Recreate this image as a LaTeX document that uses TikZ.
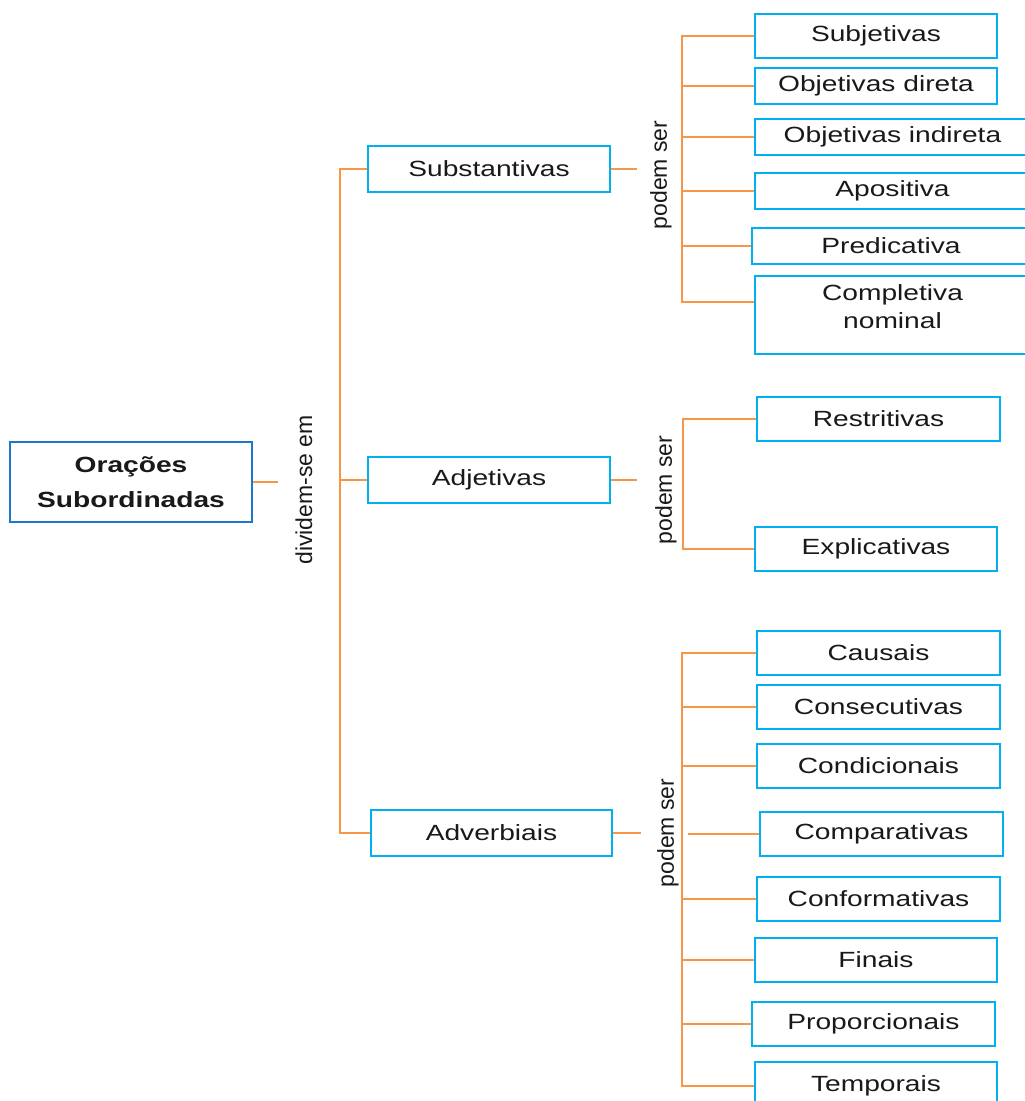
\documentclass[tikz,border=0pt]{standalone}
\usepackage{fontspec}
\setmainfont{Liberation Sans}[FakeStretch=1.28]
\newfontfamily\rotfont{Liberation Sans}
\usepackage{xcolor}
\usetikzlibrary{positioning,calc}
\definecolor{orl}{RGB}{247,150,70}
\definecolor{cyb}{RGB}{0,176,240}
\definecolor{rootb}{RGB}{30,120,200}
\definecolor{txt}{RGB}{25,25,25}

\begin{document}
\begin{tikzpicture}[x=1pt, y=-1pt,
    box/.style={draw=cyb, line width=2pt, minimum width=242pt, minimum height=44pt,
                inner sep=2pt, text=txt, align=center,
                font=\fontsize{22}{28}\selectfont},
    rootbox/.style={box, draw=rootb, minimum height=80pt, font=\fontsize{22}{35}\selectfont\bfseries},
    lbl/.style={rotate=90, text=txt, inner sep=0pt, font=\rotfont\fontsize{23}{26}\selectfont},
    link/.style={draw=orl, line width=2pt}]

    \useasboundingbox (0,0) rectangle (1025,1101);

    % root and first split
    \node[rootbox] (orac) at (131,482) {Orações\\Subordinadas};
    \coordinate (d1) at (278,482);
    \node[lbl] (divid) at (304,490) {dividem-se em};
    \draw[link] (orac.east) -- (d1);

    \node[box, minimum height=46pt] (subs) at (489,169) {Substantivas};
    \node[box, minimum height=46pt] (adj) at (489,480) {Adjetivas};
    \node[box, minimum height=46pt, minimum width=241pt] (adv) at (491.5,833) {Adverbiais};
    \coordinate (spine) at (340,482);
    \draw[link] (subs.west) -| (spine) |- (adv.west);
    \draw[link] (spine |- adj.west) -- (adj.west);

    % substantivas
    \coordinate (ps) at (637,0);
    \draw[link] (subs.east) -- (subs.east -| ps);
    \node[lbl] (pod1) at (661,175) {podem ser};
    \node[box] (subj) at (876,36) {Subjetivas};
    \node[box, minimum height=36pt] (objd) at (876,86) {Objetivas direta};
    \node[box, minimum height=36pt, minimum width=275pt] (obji) at (892.5,137) {Objetivas indireta};
    \node[box, minimum height=36pt, minimum width=275pt] (apos) at (892.5,191) {Apositiva};
    \node[box, minimum height=36pt, minimum width=278pt] (pred) at (891,246) {Predicativa};
    \node[box, minimum height=78pt, minimum width=275pt, text depth=16pt] (comp) at (892.5,315) {Completiva\\nominal};
    \coordinate (g1) at (682,302);
    \draw[link] (subj.west) -| (g1) -- (g1 -| comp.west);
    \draw[link] (g1 |- objd.west) -- (objd.west);
    \draw[link] (g1 |- obji.west) -- (obji.west);
    \draw[link] (g1 |- apos.west) -- (apos.west);
    \draw[link] (g1 |- pred.west) -- (pred.west);

    % adjetivas
    \draw[link] (adj.east) -- (adj.east -| ps);
    \node[lbl] (pod2) at (666,490) {podem ser};
    \node[box, minimum width=243pt] (restr) at (878.5,419) {Restritivas};
    \node[box] (expl) at (876,549) {Explicativas};
    \coordinate (g2) at (683,490);
    \draw[link] (restr.west) -| (g2 |- expl.west) -- (expl.west);

    % adverbiais
    \draw[link] (adv.east) -- ++(28,0);
    \node[lbl] (pod3) at (668,833) {podem ser};
    \node[box, minimum width=243pt] (caus) at (878.5,653) {Causais};
    \node[box, minimum width=243pt] (cons) at (878.5,707) {Consecutivas};
    \node[box, minimum width=243pt] (cond) at (878.5,766) {Condicionais};
    \node[box, minimum width=243pt] (compa) at (881.5,834) {Comparativas};
    \node[box, minimum width=243pt] (conf) at (878.5,899) {Conformativas};
    \node[box] (fin) at (876,960) {Finais};
    \node[box, minimum width=243pt] (prop) at (873.5,1024) {Proporcionais};
    \node[box, minimum height=48pt] (temp) at (876,1086) {Temporais};
    \coordinate (g3) at (682,860);
    \draw[link] (caus.west) -| (g3 |- temp.west) -- (temp.west);
    \draw[link] (g3 |- cons.west) -- (cons.west);
    \draw[link] (g3 |- cond.west) -- (cond.west);
    \draw[link] ($(g3 |- compa.west)+(6,0)$) -- (compa.west);
    \draw[link] (g3 |- conf.west) -- (conf.west);
    \draw[link] (g3 |- fin.west) -- (fin.west);
    \draw[link] (g3 |- prop.west) -- (prop.west);
\end{tikzpicture}
\end{document}
